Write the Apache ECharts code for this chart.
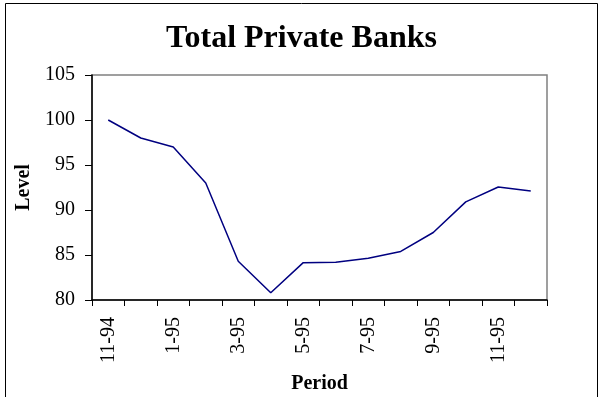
<!DOCTYPE html>
<html>
<head>
<meta charset="utf-8">
<script src="https://cdn.jsdelivr.net/npm/echarts@6/dist/echarts.min.js"></script>
<style>
  html, body { margin: 0; padding: 0; background: #fff; }
  #chart { width: 603px; height: 397px; }
</style>
</head>
<body>
<div id="chart"></div>
<script>
// Monthly periods, Nov 1994 – Dec 1995
const periods = ['11-94', '12-94', '1-95', '2-95', '3-95', '4-95', '5-95', '6-95',
                 '7-95', '8-95', '9-95', '10-95', '11-95', '12-95'];
// Index level of total private banks
const levels = [100, 98.0, 97.0, 93.0, 84.3, 80.8, 84.15, 84.2, 84.65, 85.4, 87.5, 90.9, 92.55, 92.1];
// Value axis range
const yMin = 80, yMax = 105, yStep = 5;

const serif = '"Liberation Serif", "Times New Roman", serif';

const chart = echarts.init(document.getElementById('chart'), null, { renderer: 'canvas' });
chart.setOption({
  animation: false,
  backgroundColor: '#fff',
  title: {
    text: 'Total Private Banks',
    left: 'center',
    top: 18,
    textStyle: { fontFamily: serif, fontSize: 32, fontWeight: 'bold', color: '#000' }
  },
  graphic: [{
    type: 'rect',
    shape: { x: 5.5, y: 3.5, width: 592, height: 400 },
    style: { fill: 'none', stroke: '#000', lineWidth: 1 },
    silent: true
  }],
  grid: {
    left: 92, right: 56, top: 75, bottom: 97,
    outerBoundsMode: 'none',
    containLabel: false,
    show: true, borderColor: '#808080', borderWidth: 1.5, backgroundColor: 'transparent'
  },
  xAxis: {
    type: 'category',
    data: periods,
    boundaryGap: true,
    name: 'Period',
    nameLocation: 'middle',
    nameGap: 74,
    nameTextStyle: { fontFamily: serif, fontSize: 20, fontWeight: 'bold', color: '#000' },
    axisLine: { lineStyle: { color: '#000', width: 1.5 } },
    axisTick: { show: true, interval: 0, length: 6, lineStyle: { color: '#000' } },
    axisLabel: {
      interval: 1, rotate: 90, margin: 17,
      fontFamily: serif, fontSize: 20, color: '#000'
    },
    splitLine: { show: false }
  },
  yAxis: {
    type: 'value',
    min: yMin, max: yMax, interval: yStep,
    name: 'Level',
    nameLocation: 'middle',
    nameGap: 58,
    nameRotate: 90,
    nameTextStyle: { fontFamily: serif, fontSize: 20, fontWeight: 'bold', color: '#000' },
    axisLine: { show: true, lineStyle: { color: '#000', width: 1.5 } },
    axisTick: { show: true, length: 7, lineStyle: { color: '#000' } },
    axisLabel: { margin: 17, fontFamily: serif, fontSize: 20, color: '#000' },
    splitLine: { show: false }
  },
  series: [{
    type: 'line',
    data: levels,
    symbol: 'none',
    lineStyle: { color: '#000080', width: 1.5 }
  }]
});
</script>
</body>
</html>
